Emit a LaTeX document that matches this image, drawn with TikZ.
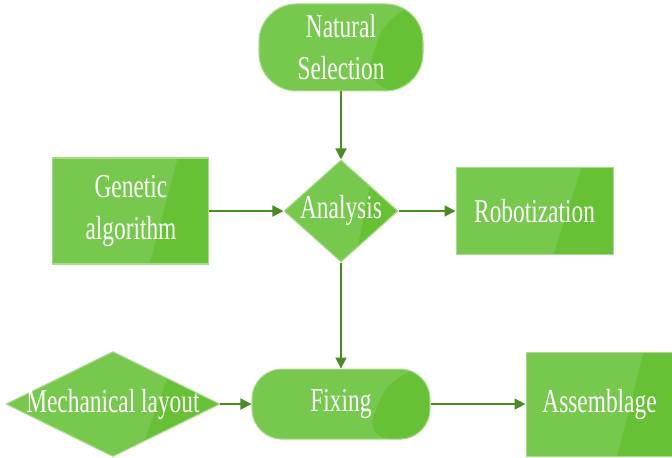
\documentclass[tikz,border=0pt]{standalone}
\usepackage{fontspec}
\setmainfont[FakeStretch=0.7]{Liberation Serif}
\usetikzlibrary{arrows.meta,positioning,shapes.geometric,calc}

\definecolor{leafgreen}{HTML}{77C94D}
\definecolor{leafdark}{HTML}{66C134}
\definecolor{leafedge}{HTML}{A9DB8C}
\definecolor{stemgreen}{HTML}{4A8C22}

\begin{document}
\begin{tikzpicture}[font=\fontsize{19}{24}\selectfont, text=white, node distance=1cm,
  sheen/.style={fill=leafgreen, draw=leafedge, line width=0.6pt, inner sep=0pt, align=center,
    path picture={\fill[leafdark] ($(path picture bounding box.north west)!0.8!(path picture bounding box.north east)$) -- (path picture bounding box.north east) -- (path picture bounding box.south east) -- ($(path picture bounding box.south west)!0.62!(path picture bounding box.south east)$) -- cycle;}},
  box/.style={sheen, rectangle},
  stadium/.style={sheen, rectangle, rounded corners=#1},
  decision/.style={sheen, diamond},
  flow/.style={draw=stemgreen, line width=0.9pt, -{Triangle[length=2.2mm,width=2.2mm]}}]
\useasboundingbox (0,0) rectangle (13.44,-9.14);
\node[decision, minimum width=2.28cm, minimum height=2.04cm] (ana) at (6.82,-4.22) {\makebox[0pt]{Analysis}};
\node[stadium=0.75cm, minimum width=3.28cm, minimum height=1.74cm, above=1.36cm of ana] (sel) {Natural\\Selection};
\node[box, minimum width=3.12cm, minimum height=2.12cm, left=1.48cm of ana] (gen) {Genetic\\algorithm};
\node[box, minimum width=3.14cm, minimum height=1.74cm, right=1.14cm of ana] (rob) {Robotization};
\node[stadium=0.6cm, minimum width=3.56cm, minimum height=1.4cm, below=2.12cm of ana] (fix) {Fixing};
\node[decision, minimum width=4.28cm, minimum height=2.1cm, left=0.62cm of fix] (mech) {\makebox[0pt]{Mechanical layout}};
\node[box, minimum width=2.94cm, minimum height=2.08cm, right=1.9cm of fix] (asm) {Assemblage};
\draw[flow] (sel) -- (ana); \draw[flow] (gen) -- (ana); \draw[flow] (ana) -- (rob);
\draw[flow] (ana) -- (fix); \draw[flow] (mech) -- (fix); \draw[flow] (fix) -- (asm);
\end{tikzpicture}
\end{document}
